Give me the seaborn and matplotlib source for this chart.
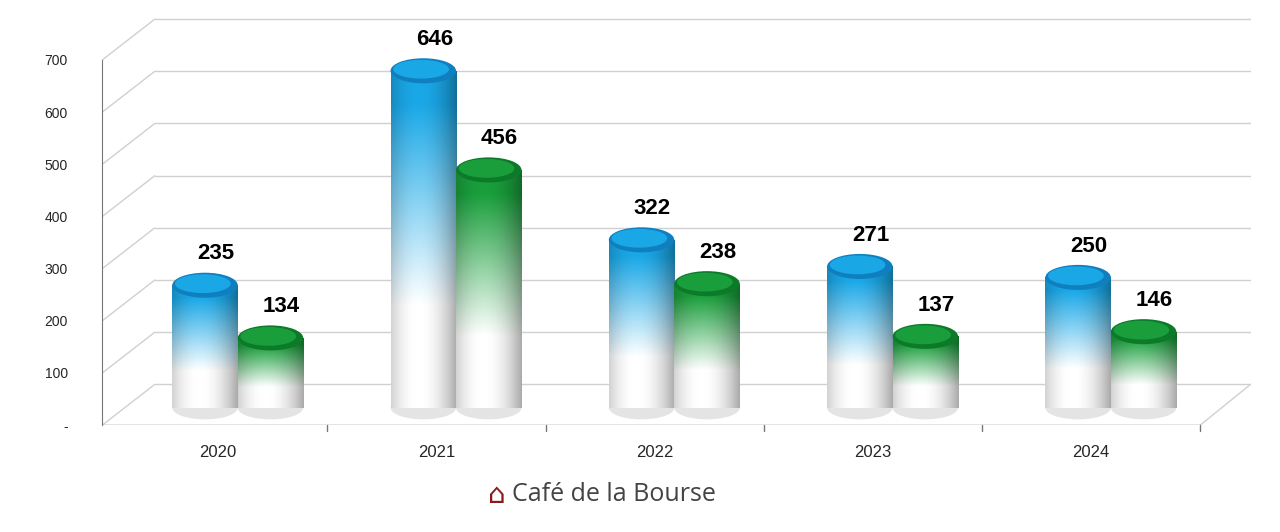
import numpy as np
import pandas as pd
import matplotlib
matplotlib.use("Agg")
import matplotlib.pyplot as plt
import seaborn as sns
from matplotlib.patches import Ellipse
from matplotlib.colors import to_rgb

years = ["2020", "2021", "2022", "2023", "2024"]
serie_a = [235, 646, 322, 271, 250]
serie_b = [134, 456, 238, 137, 146]
yticks = [0, 100, 200, 300, 400, 500, 600, 700]
ytick_labels = ["-", "100", "200", "300", "400", "500", "600", "700"]

df = pd.DataFrame({"year": years * 2, "value": serie_a + serie_b,
                   "serie": ["A"] * 5 + ["B"] * 5})

sns.set_style("white")
plt.rcParams['font.family'] = ['Liberation Sans', 'DejaVu Sans']
fig = plt.figure(figsize=(12.8, 5.32), dpi=100)
ax = fig.add_axes([0.080, 0.201, 0.897, 0.765])
sns.barplot(data=df, x="year", y="value", hue="serie", width=0.6,
            palette=["#1aa7e6", "#1a9e3c"], ax=ax, legend=False)

BASE, SHIFT = 33, 0.09
DX, DY = 0.24, 78
gc = "#d0d0d0"
for v in yticks:
    ax.plot([-0.53, -0.53 + DX], [v, v + DY], color=gc, lw=1, zorder=0)
    ax.plot([-0.53 + DX, 4.73], [v + DY, v + DY], color=gc, lw=1, zorder=0)
ax.plot([4.5, 4.73], [0, DY], color=gc, lw=1, zorder=0)
ax.plot([-0.53, 4.5], [0, 0], color="#777777", lw=1, zorder=1)
for b in [0.5, 1.5, 2.5, 3.5, 4.5]:
    ax.plot([b, b], [0, -12], color="#777777", lw=1, clip_on=False)

top_cols = {"A": ("#1aa7e6", "#0f7fc0"), "B": ("#1a9e3c", "#0d7a2a")}
bars = list(ax.patches)
vals = serie_a + serie_b
keys = ["A"] * 5 + ["B"] * 5
for p, v, k in zip(bars, vals, keys):
    p.set_x(p.get_x() + SHIFT)
    p.set_y(BASE)
    x0, w = p.get_x(), p.get_width()
    cx = x0 + w / 2
    col = np.array(to_rgb(top_cols[k][0]))
    ny, nx = 200, 60
    t = np.linspace(0, 1, ny)[:, None]
    s = np.linspace(-1, 1, nx)[None, :]
    fade = np.clip((t - 0.1) / 0.6, 0, 1)
    shade = 1 - 0.25 * s ** 2 - 0.08 * s
    img = (col[None, None, :] * (1 - fade[..., None]) + fade[..., None]) * shade[..., None]
    img = np.clip(img, 0, 1)
    im = ax.imshow(img, extent=[x0, x0 + w, BASE, BASE + v], aspect="auto",
                   zorder=3, interpolation="bilinear")
    im.set_clip_path(p)
    p.set_alpha(0)
    ax.add_patch(Ellipse((cx, BASE), w, 44, facecolor="#e4e4e4",
                         edgecolor="none", zorder=2.9))
    ax.add_patch(Ellipse((cx, BASE + v), w, 48, facecolor=top_cols[k][1],
                         edgecolor="none", zorder=4))
    ax.add_patch(Ellipse((cx - 0.01, BASE + v + 3), w * 0.85, 36,
                         facecolor=top_cols[k][0], edgecolor="none", zorder=4.1))
    ax.text(cx + 0.05, BASE + v + 60, str(v), ha="center", va="center",
            fontsize=16, fontweight="bold", color="black", zorder=5)
ax.set_aspect("auto")
ax.set_xlim(-0.53, 4.73)
ax.set_ylim(0, 780)

ax.set_yticks(yticks)
ax.set_yticklabels(ytick_labels, fontsize=10)
ax.set_xticks(range(5))
ax.set_xticklabels(years, fontsize=12)
ax.tick_params(axis="x", length=0, pad=14)
ax.tick_params(axis="y", length=3, color="#777777", pad=22)
ax.set_xlabel("")
ax.set_ylabel("")
for sname in ["top", "right", "bottom"]:
    ax.spines[sname].set_visible(False)
ax.spines["left"].set_color("#777777")
ax.spines["left"].set_bounds(0, 700)

fig.text(0.48, 0.07, "Café de la Bourse", ha="center", va="center",
         fontsize=18, color="#444444", family=["Open Sans", "DejaVu Sans"])
fig.text(0.388, 0.07, "\u2302", ha="center", va="center", fontsize=20,
         color="#8b1a1a", family=["DejaVu Sans"])
fig.savefig("out.png", dpi=100)
